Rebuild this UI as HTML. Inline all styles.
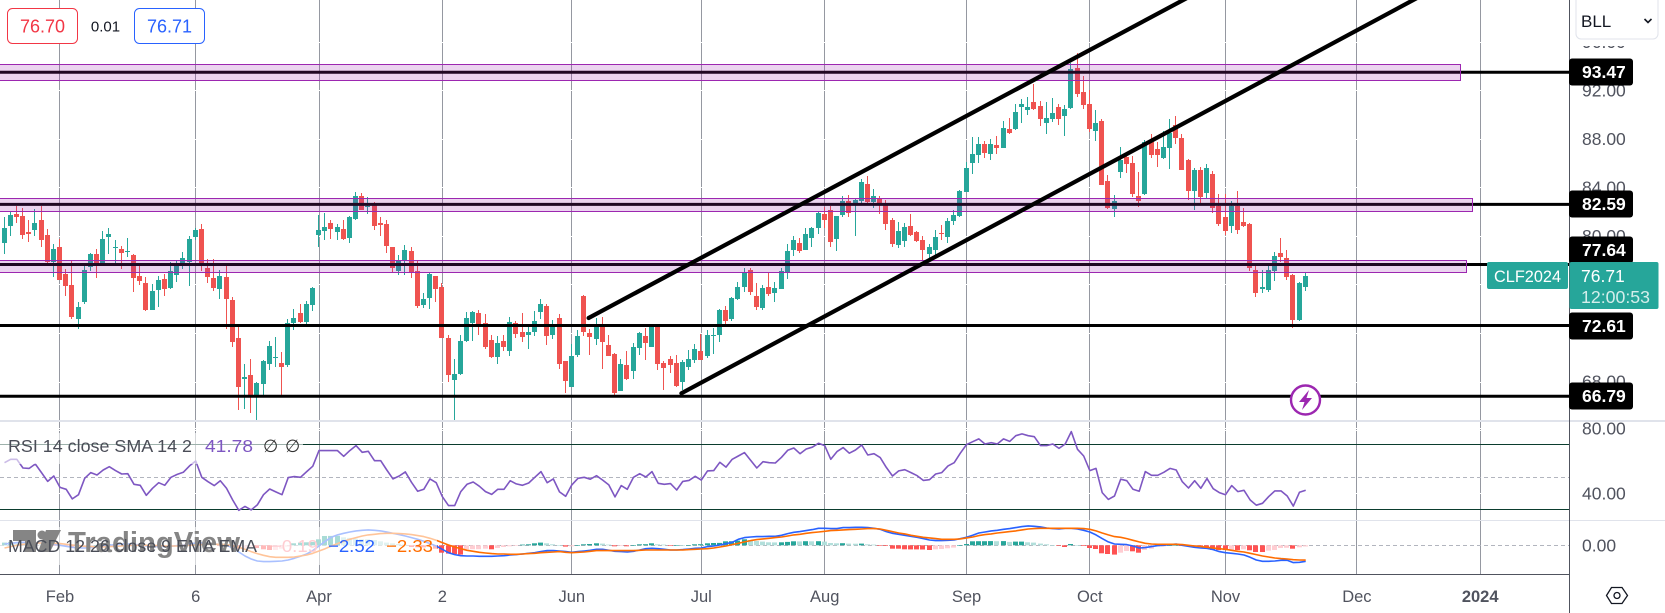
<!DOCTYPE html>
<html lang="en">
<head>
<meta charset="utf-8">
<title>CLF2024 chart</title>
<style>
html,body{margin:0;padding:0;background:#fff;width:1665px;height:613px;overflow:hidden}
svg{display:block;font-family:"Liberation Sans","DejaVu Sans",sans-serif}
</style>
</head>
<body>
<svg id="chart" xmlns="http://www.w3.org/2000/svg" width="1665" height="613" viewBox="0 0 1665 613">
  <rect x="0" y="0" width="1665" height="613" fill="#ffffff"/>
  <g id="vgrid"></g>
  <g id="hgrid"></g>

  <g id="rsiPane"></g>
  <g id="macdPane"></g>

  <rect x="0" y="433" width="303" height="31" fill="#ffffff" fill-opacity="0.6"/>
  <rect x="0" y="527" width="437" height="38" fill="#ffffff" fill-opacity="0.6"/>

  <g fill="#858585">
    <path d="M13 530H36V552H25V541H13ZM46 530H61L50 552H38Z"/>
    <circle cx="42" cy="535" r="4.5"/>
    <text x="68" y="552" font-size="29" font-weight="700" textLength="172" lengthAdjust="spacingAndGlyphs">TradingView</text>
  </g>

  <g id="candles" clip-path="url(#pricePaneClip)"></g>
  <defs><clipPath id="pricePaneClip"><rect x="0" y="0" width="1569" height="420"/></clipPath></defs>

  <g id="levels"></g>

  <g fill="#9c27b0" fill-opacity="0.2" stroke="#9c27b0" stroke-width="1">
    <rect x="-2" y="64.5" width="1462.5" height="16"/>
    <rect x="-2" y="198.5" width="1474.5" height="13"/>
    <rect x="-2" y="260.5" width="1468.5" height="12"/>
  </g>

  <line x1="588.6" y1="318" x2="1187" y2="-2" stroke="#000" stroke-width="4.2" stroke-linecap="round"/>
  <line x1="681.4" y1="393.3" x2="1417" y2="-2" stroke="#000" stroke-width="4.2" stroke-linecap="round"/>

  <g>
    <circle cx="1305.5" cy="400" r="14.5" fill="#fff" stroke="#9c27b0" stroke-width="2.4"/>
    <path d="M1309 390L1299 402H1304.5L1302 410L1312 398H1306.5Z" fill="#9c27b0"/>
  </g>

  <g font-size="17.5">
    <text x="8" y="452" fill="#4a4d57" textLength="184" lengthAdjust="spacingAndGlyphs">RSI 14 close SMA 14 2</text>
    <text x="205" y="452" fill="#7e57c2" textLength="48" lengthAdjust="spacingAndGlyphs">41.78</text>
    <text x="263" y="452" fill="#333">∅</text>
    <text x="285" y="452" fill="#333">∅</text>
  </g>
  <g font-size="17.5">
    <text x="8" y="552" fill="#4a4d57" textLength="249" lengthAdjust="spacingAndGlyphs">MACD 12 26 close 9 EMA EMA</text>
    <text x="271" y="552" fill="#ffcdd2" textLength="47" lengthAdjust="spacingAndGlyphs">−0.19</text>
    <text x="328" y="552" fill="#2962ff" textLength="47" lengthAdjust="spacingAndGlyphs">−2.52</text>
    <text x="386" y="552" fill="#ff6d00" textLength="47" lengthAdjust="spacingAndGlyphs">−2.33</text>
  </g>

  <rect x="1570" y="0" width="95" height="613" fill="#ffffff"/>
  <line x1="0" y1="574.5" x2="1569" y2="574.5" stroke="#50535e" stroke-width="1"/>
  <rect x="0" y="420" width="1665" height="2" fill="#e0e3eb"/>
  <rect x="0" y="520" width="1665" height="1" fill="#e0e3eb"/>
  <line x1="1569.5" y1="0" x2="1569.5" y2="613" stroke="#50535e" stroke-width="1"/>

  <g id="priceTicks"></g>
  <g id="timeTicks"></g>

  <rect x="1570" y="0" width="95" height="46" fill="#ffffff"/>
  <g>
    <rect x="1576" y="-6" width="82" height="45" rx="5" fill="#fff" stroke="#e0e3eb"/>
    <text x="1581" y="27" font-size="17" fill="#131722">BLL</text>
    <path d="M1644.5 19L1648 22.5L1651.5 19" fill="none" stroke="#131722" stroke-width="1.6"/>
  </g>

  <g id="levelLabels"></g>

  <g>
    <rect x="1487" y="262" width="81" height="27" rx="2" fill="#26a69a"/>
    <text x="1494" y="282" font-size="17" fill="#fff" textLength="67" lengthAdjust="spacingAndGlyphs">CLF2024</text>
    <rect x="1569.5" y="262" width="89" height="47" rx="2" fill="#26a69a"/>
    <text x="1581" y="282" font-size="17.5" fill="#fff">76.71</text>
    <text x="1581" y="303" font-size="17.5" fill="#d4eeeb" textLength="69" lengthAdjust="spacingAndGlyphs">12:00:53</text>
  </g>

  <g>
    <rect x="7.5" y="8.5" width="70" height="35" rx="5" fill="#fff" stroke="#f23645"/>
    <text x="42.5" y="32.5" font-size="18" fill="#f23645" text-anchor="middle">76.70</text>
  </g>
  <text x="105.5" y="31.5" font-size="15" fill="#131722" text-anchor="middle">0.01</text>
  <g>
    <rect x="134.5" y="8.5" width="70" height="35" rx="5" fill="#fff" stroke="#2962ff"/>
    <text x="169.5" y="32.5" font-size="18" fill="#2962ff" text-anchor="middle">76.71</text>
  </g>

  <g fill="none" stroke="#131722" stroke-width="1.3">
    <path d="M1606.5 595.5L1611.5 587.5H1622L1627.5 595.5L1622 603.5H1611.5Z"/>
    <circle cx="1617" cy="595.5" r="3"/>
  </g>
</svg>

<script>
var opens = [
79.41,80.81,81.80,81.63,80.32,80.48,81.30,80.07,77.84,79.08,
76.86,75.95,73.15,74.55,77.43,78.50,77.76,79.90,79.00,78.92,
78.67,78.42,76.69,76.11,73.89,75.54,76.44,75.70,76.77,77.68,
77.84,79.90,80.56,77.35,76.53,75.62,76.61,74.71,71.58,68.21,
68.54,66.75,67.79,69.44,69.94,69.52,69.36,72.82,73.64,72.90,
74.30,80.07,80.40,81.06,80.32,80.56,79.82,81.39,83.28,82.37,
82.62,81.06,80.97,79.08,77.10,78.01,78.75,77.10,74.30,74.88,
76.69,75.78,71.58,68.13,68.62,71.34,72.82,73.64,72.82,71.42,
70.02,71.34,70.51,72.82,72.08,71.83,72.08,73.72,74.22,71.83,
73.23,69.69,67.55,70.18,75.04,71.99,71.50,72.57,71.01,70.27,
67.22,69.36,68.87,70.76,71.75,70.84,72.57,69.53,69.85,69.53,
67.96,69.19,69.77,70.51,70.10,71.75,71.83,73.89,73.15,74.80,
75.78,77.19,75.04,74.05,75.78,75.29,75.62,77.02,78.83,79.41,
78.83,79.82,80.64,81.80,82.13,79.74,81.72,82.87,82.70,82.87,
84.27,82.79,83.03,82.62,81.30,79.24,79.58,80.81,80.31,79.66,
78.50,78.83,80.23,79.90,81.22,81.63,83.61,85.99,86.66,87.56,
86.74,87.48,87.23,88.80,88.80,90.61,90.36,91.02,90.69,89.29,
89.62,90.61,89.87,90.53,93.82,91.85,90.86,88.63,89.46,84.52,
82.21,85.26,86.49,85.99,83.28,83.44,87.73,87.15,86.41,87.23,
89.13,88.06,86.25,83.69,85.42,83.52,85.09,82.46,81.55,80.81,
82.46,81.14,80.97,77.18,75.62,75.54,77.10,78.58,78.17,76.77,
73.06,75.78];
var highs = [
81.55,81.96,82.46,82.29,81.30,82.21,82.46,80.56,79.33,79.74,
77.27,77.95,74.55,77.51,78.59,78.92,80.40,80.65,79.66,79.16,
79.82,78.50,77.51,76.61,76.03,76.69,76.86,77.84,77.93,78.67,
79.99,80.65,80.97,78.06,78.09,77.19,77.51,74.96,72.49,69.44,
69.85,67.96,69.77,71.34,71.67,70.43,73.15,73.97,74.38,74.63,
75.78,81.72,81.88,81.30,80.97,81.30,81.63,83.61,83.53,83.20,
82.79,81.55,81.30,79.08,78.42,79.24,79.08,77.93,75.29,76.94,
76.69,76.11,71.83,69.85,71.83,73.72,73.81,73.89,73.56,71.83,
71.75,71.83,73.31,72.98,73.64,72.49,73.81,74.80,74.38,73.07,
73.56,69.69,71.09,72.24,75.13,72.33,73.23,73.31,71.83,70.35,
69.85,70.51,71.17,72.08,72.41,72.66,72.66,69.69,70.10,70.18,
69.77,70.59,71.09,71.91,72.24,72.41,73.97,74.22,74.96,76.20,
77.35,77.35,76.11,75.95,76.94,76.20,77.35,79.33,79.99,79.82,
80.64,80.73,81.96,82.37,82.46,81.63,83.28,83.36,83.03,84.68,
84.93,83.86,83.28,82.95,81.47,81.14,81.06,81.80,80.40,79.99,
79.33,80.48,80.89,81.47,82.13,83.78,86.08,88.14,88.14,87.81,
87.97,88.22,89.46,89.70,90.86,91.27,91.43,92.50,91.10,91.02,
91.35,90.86,90.78,94.24,95.06,93.16,92.01,90.36,89.62,85.01,
83.36,87.31,86.66,86.57,85.26,87.89,88.39,87.73,88.63,89.62,
89.87,88.39,86.33,85.58,85.67,85.91,85.34,83.44,83.44,82.87,
83.69,82.29,81.06,77.51,77.18,77.51,78.67,79.82,78.83,76.83,
76.20,76.94];
var lows = [
78.50,79.99,81.06,79.74,79.49,79.99,79.08,77.76,76.61,76.36,
75.04,73.15,72.33,74.38,77.10,76.53,77.68,78.50,77.76,77.27,
78.26,75.37,75.95,73.81,73.89,74.14,75.04,75.62,76.20,77.27,
75.87,79.66,77.10,76.11,75.46,74.80,72.33,70.84,65.65,65.73,
65.41,64.83,66.89,68.95,69.19,66.89,69.19,72.24,72.82,72.74,
73.81,79.08,79.66,79.74,79.66,79.66,79.41,81.30,82.13,81.80,
80.48,79.99,78.59,77.02,76.77,76.77,76.53,74.06,74.06,73.97,
74.55,71.58,67.96,64.83,68.54,71.25,71.34,71.83,70.68,69.94,
69.44,70.51,70.10,71.58,71.25,70.68,71.75,73.15,71.01,71.50,
69.03,67.05,67.55,70.02,71.75,70.18,71.01,69.03,70.10,66.89,
67.22,68.13,68.21,70.18,69.77,70.84,68.95,67.30,68.70,67.55,
67.30,68.95,69.53,69.77,69.94,70.27,71.25,72.74,72.98,74.71,
75.37,75.13,73.89,73.89,75.04,74.55,75.62,76.44,78.34,78.58,
78.83,79.08,80.15,80.64,79.08,78.75,81.55,81.55,79.99,82.70,
82.70,82.29,81.80,80.48,79.08,78.99,79.08,79.99,79.49,77.93,
77.93,78.42,79.66,79.41,80.89,81.55,83.61,85.09,85.99,86.41,
86.25,86.74,87.23,88.39,88.72,89.29,89.95,90.36,89.05,88.39,
89.37,89.13,88.22,90.45,91.43,90.45,88.55,87.81,84.19,82.21,
81.55,84.76,85.17,83.19,82.37,83.36,86.41,85.67,86.33,85.50,
87.56,85.42,82.95,82.13,82.70,83.11,81.88,80.81,80.07,80.23,
80.15,80.73,77.10,74.96,75.29,75.37,76.28,77.84,76.36,72.41,
72.98,75.45];
var closes = [
80.65,81.72,81.55,80.07,80.15,81.06,79.66,77.84,78.92,76.36,
75.87,73.31,74.14,77.19,78.50,77.62,79.74,80.15,79.08,78.59,
78.75,76.53,76.28,73.89,75.46,76.36,75.62,77.10,77.60,78.17,
79.74,80.48,77.76,76.61,75.70,76.69,74.80,71.25,67.55,68.37,
66.89,67.88,69.69,70.92,70.02,69.19,72.82,73.23,72.90,74.38,
75.70,80.48,80.73,80.56,80.73,79.74,81.55,83.28,82.13,82.46,
80.81,80.89,79.16,77.35,77.93,78.83,77.02,74.22,74.80,76.86,
75.62,71.58,68.54,68.62,71.34,73.23,73.72,72.66,70.84,70.02,
71.17,70.84,72.90,71.91,71.67,72.08,72.98,74.38,71.75,72.57,
69.44,68.04,70.10,71.75,72.08,71.67,72.49,71.25,70.10,67.05,
69.44,68.21,70.84,71.99,71.17,72.57,69.44,69.11,69.36,67.63,
69.61,69.85,70.68,69.77,71.83,71.83,73.89,72.98,74.88,75.78,
76.94,75.37,74.14,75.70,75.21,75.70,77.10,78.75,79.66,78.75,
80.15,80.64,81.88,81.30,79.49,81.63,82.87,81.88,82.95,84.43,
82.79,83.28,82.70,80.97,79.33,80.40,80.73,80.07,79.58,78.83,
79.08,79.90,80.15,81.22,81.72,83.69,85.59,86.74,87.56,86.82,
87.56,87.23,88.88,88.47,90.20,90.86,90.61,90.45,89.62,89.70,
90.12,89.62,90.45,93.74,91.68,90.78,88.80,89.29,84.19,82.29,
82.87,86.25,85.91,83.44,82.87,87.73,86.66,86.66,87.31,88.47,
88.06,85.42,83.69,85.42,83.19,85.58,82.29,80.97,80.40,82.46,
80.48,80.81,77.35,75.29,75.78,77.18,78.34,78.25,76.61,73.06,
76.12,76.71];
var rsiValues = [
58.7,60.8,60.8,55.4,55.2,57.9,52.6,47.2,50.5,43.5,
42.3,36.4,39.0,49.1,52.6,51.1,54.2,56.2,53.8,51.7,
51.9,45.4,44.8,38.6,42.9,46.4,44.8,49.7,51.5,52.8,
56.7,59.7,49.7,47.0,44.6,47.6,42.9,35.7,29.4,31.8,
29.6,32.7,39.0,42.5,40.7,39.0,49.5,50.1,49.7,53.2,
56.5,66.1,66.1,66.1,66.1,62.6,66.1,69.2,65.1,65.7,
59.9,59.9,54.2,48.7,50.5,53.0,46.6,41.1,42.3,48.7,
46.4,37.8,32.3,32.3,40.9,45.4,46.8,44.2,40.9,39.2,
42.3,42.3,47.6,45.6,44.8,46.2,49.7,53.2,46.4,48.7,
40.7,38.0,45.0,49.1,49.7,48.5,50.7,48.0,45.0,37.6,
44.6,42.3,49.7,51.9,49.9,53.2,46.0,45.4,45.8,41.9,
47.2,47.8,50.3,48.0,53.6,53.8,58.9,56.0,60.8,62.8,
64.9,60.1,55.4,59.3,58.7,58.5,62.0,66.3,67.7,64.2,
67.1,68.2,70.6,69.2,60.8,65.5,68.0,64.5,66.5,69.6,
63.4,64.2,61.8,55.8,50.5,53.6,54.4,52.6,50.7,47.8,
48.2,51.7,52.6,56.7,58.7,64.5,69.8,71.6,73.3,70.2,
71.0,70.2,73.3,71.8,75.3,76.4,75.3,74.7,69.2,69.2,
70.2,67.5,70.2,77.8,66.9,62.8,53.8,55.2,40.3,36.1,
38.2,48.5,47.6,42.3,41.1,53.2,50.9,50.9,52.8,55.2,
54.2,47.0,43.1,47.6,42.9,48.9,42.7,40.3,39.0,44.6,
40.9,41.7,35.7,32.5,33.7,37.8,41.3,41.3,38.2,32.0,
40.5,41.78];
var macdValues = [
.21,.32,.42,.47,.47,.42,.37,.26,.16,0,
-.16,-.32,-.42,-.42,-.37,-.26,-.16,0,.11,.21,
.21,.16,.05,-.11,-.21,-.21,-.21,-.16,-.05,.05,
.21,.37,.37,.32,.21,.16,0,-.42,-1.05,-1.68,
-2.15,-2.47,-2.57,-2.57,-2.52,-2.47,-2.31,-2.05,-1.73,-1.37,
-.84,-.11,.63,1.26,1.63,1.89,2.10,2.26,2.36,2.42,
2.36,2.26,2.10,1.89,1.68,1.47,1.21,.95,.63,.26,
-.11,-.63,-1.16,-1.47,-1.63,-1.68,-1.68,-1.73,-1.73,-1.73,
-1.68,-1.63,-1.52,-1.47,-1.37,-1.26,-1.16,-1.00,-.84,-.84,
-.89,-1.00,-1.10,-1.00,-.89,-.79,-.63,-.63,-.79,-.95,
-1.00,-1.05,-.95,-.74,-.53,-.47,-.53,-.63,-.74,-.74,
-.68,-.58,-.47,-.42,-.21,-.11,.05,.26,.47,.95,
1.21,1.31,1.37,1.37,1.42,1.42,1.58,1.84,2.05,2.15,
2.31,2.47,2.68,2.68,2.63,2.63,2.78,2.78,2.84,2.84,
2.78,2.68,2.52,2.15,1.89,1.73,1.58,1.42,1.26,1.05,
.84,.74,.74,.79,.84,1.05,1.26,1.58,1.94,2.10,
2.26,2.36,2.52,2.63,2.78,2.94,3.05,2.99,2.89,2.73,
2.63,2.57,2.68,2.68,2.57,2.36,2.10,1.63,1.05,.53,
.21,.16,.11,-.11,-.42,-.37,-.21,-.05,0,.11,
.21,0,-.16,-.32,-.42,-.47,-.68,-1.00,-1.16,-1.26,
-1.37,-1.52,-1.89,-2.31,-2.52,-2.52,-2.47,-2.36,-2.36,-2.73,
-2.68,-2.52];
var signalValues = [
-.42,-.21,0,.16,.26,.37,.37,.37,.32,.26,
.16,.05,-.05,-.16,-.21,-.26,-.26,-.21,-.16,-.11,
-.05,0,0,0,-.05,-.05,-.11,-.11,-.11,-.05,
0,.05,.11,.16,.16,.16,.11,-.05,-.32,-.63,
-1.00,-1.31,-1.58,-1.79,-1.89,-1.89,-1.89,-1.84,-1.68,-1.52,
-1.26,-.89,-.53,-.11,.26,.63,.95,1.21,1.47,1.63,
1.73,1.84,1.89,1.89,1.84,1.79,1.68,1.52,1.37,1.10,
.79,.42,.05,-.26,-.53,-.79,-.95,-1.10,-1.21,-1.31,
-1.37,-1.37,-1.42,-1.42,-1.37,-1.31,-1.26,-1.16,-1.10,-1.05,
-1.00,-1.10,-1.16,-1.10,-1.05,-.95,-.84,-.84,-.84,-.84,
-.84,-.84,-.84,-.79,-.74,-.74,-.74,-.74,-.74,-.74,
-.74,-.68,-.63,-.58,-.53,-.42,-.26,-.11,.11,.32,
.53,.74,.89,1.00,1.10,1.21,1.31,1.47,1.63,1.73,
1.89,2.00,2.10,2.21,2.31,2.36,2.42,2.47,2.52,2.57,
2.63,2.63,2.57,2.36,2.15,1.94,1.79,1.58,1.42,1.26,
1.16,1.05,.95,.95,.95,1.00,1.16,1.31,1.52,1.68,
1.79,1.94,2.05,2.15,2.26,2.42,2.57,2.63,2.68,2.68,
2.68,2.68,2.68,2.68,2.68,2.63,2.52,2.26,1.94,1.63,
1.37,1.26,1.05,.79,.53,.32,.21,.16,.16,.16,
.16,.11,0,-.11,-.21,-.32,-.42,-.53,-.63,-.79,
-.95,-1.05,-1.26,-1.47,-1.68,-1.84,-2.00,-2.10,-2.15,-2.26,
-2.31,-2.33];
var histValues = [
.42,.53,.47,.42,.37,.26,.16,.05,-.05,-.11,
-.16,-.21,-.21,-.16,-.05,.05,.16,.21,.16,.11,
.05,0,-.05,-.11,-.16,-.11,-.11,-.05,.05,.11,
.16,.26,.21,.11,0,-.05,-.11,-.32,-.53,-.42,
-.21,-.42,-.63,-.74,-.74,-.53,-.21,.32,.42,.47,
.53,.95,1.47,1.48,1.49,1.26,1.16,1.05,.95,.94,
.84,.63,.42,.32,.21,.11,-.26,-.32,-.33,-.21,
-.53,-1.16,-1.31,-1.37,-1.47,-.63,-.62,-.61,-.53,-.63,
-.42,-.26,-.16,-.05,.11,.16,.32,.42,.32,.16,
.05,-.2,-.16,.05,.16,.21,.32,.26,.11,-.16,
-.11,-.16,.05,.16,.17,.32,.16,.11,-.05,.05,
0,.05,.16,.17,.32,.37,.38,.63,.64,.74,
.95,.84,.68,.58,.47,.46,.48,.53,.63,.62,
.64,.63,.65,.58,.37,.32,.33,.26,.25,.27,
.16,.11,-.05,-.11,-.53,-.54,-.63,-.64,-.65,-.66,
-.74,-.63,-.58,-.47,-.37,0,.21,.63,.64,.65,
.66,.65,.66,.53,.58,.59,.47,.42,.26,.16,
.05,-.05,-.26,.21,.05,-.11,-.42,-.58,-1.26,-1.37,
-1.47,-1.16,-.9,-.95,-1.16,-.74,-.53,-.21,-.16,0,
.05,-.05,-.11,-.16,-.26,-.32,-.74,-.75,-.76,-.74,
-.75,-.63,-.79,-1.05,-1.06,-.84,-.74,-.42,-.40,-.53,
-.32,-.19];

var priceTickLabels = ["96.00","92.00","88.00","84.00","80.00","76.00","72.00","68.00"];
var rsiTickLabels = ["80.00","40.00"];
var macdTickLabels = ["0.00"];
var timeLabels = ["Feb","6","Apr","2","Jun","Jul","Aug","Sep","Oct","Nov","Dec","2024"];
var timeLabelBars = [9,31,51,71,92,113,133,156,176,198,219.3,239.3];
var levelValues = [93.47,82.59,77.64,72.61,66.79];

var NS = "http://www.w3.org/2000/svg";
function yPrice(p){ return 72.3 + (93.47 - p) * 12.14; }
function yRsi(v){ return 476.8 - (v - 50) * 1.625; }
function yMacd(v){ return 545.3 - v * 6.35; }
function xBarLeft(i){ return Math.floor(2 + 6.1667 * i); }
function xBarCenter(i){ return 4.5 + 6.1667 * i; }
function make(tag, parent, attrs){
  var el = document.createElementNS(NS, tag);
  for (var k in attrs) { el.setAttribute(k, attrs[k]); }
  parent.appendChild(el);
  return el;
}

var vgrid = document.getElementById("vgrid");
timeLabelBars.forEach(function(b, i){
  var gx = Math.round(xBarCenter(b) - 0.5) + 0.5;
  if (i === 0) { gx = 59.5; } 
  var vl = make("line", vgrid, {x1:gx, x2:gx, y1:0, y2:574, stroke:"#9598a1", "stroke-width":1});
  
  
});

var hgrid = document.getElementById("hgrid");
priceTickLabels.concat(["64.00"]).forEach(function(t){
  var gy = Math.round(yPrice(parseFloat(t))) + 0.5;
  var hl = make("line", hgrid, {x1:0, x2:1569, y1:gy, y2:gy, stroke:"#ffffff", "stroke-width":1});
  
  
});
rsiTickLabels.forEach(function(t){
  var gy = Math.round(yRsi(parseFloat(t))) + 0.5;
  var hl = make("line", hgrid, {x1:0, x2:1569, y1:gy, y2:gy, stroke:"#ffffff", "stroke-width":1});
  
  
});

var rsiPane = document.getElementById("rsiPane");
[70, 30].forEach(function(v){
  var gy = Math.round(yRsi(v)) + 0.5;
  var band = make("line", rsiPane, {x1:0, x2:1569, y1:gy, y2:gy, stroke:"#0b3d2e", "stroke-width":1});
  
  
});
var midY = Math.round(yRsi(50)) + 0.5;
var rsiMid = make("line", rsiPane, {x1:0, x2:1569, y1:midY, y2:midY, stroke:"#b2b5be", "stroke-width":1, "stroke-dasharray":"4 3"});


var rsiLine = make("polyline", rsiPane, {
  points: rsiValues.map(function(v, i){ return xBarCenter(i).toFixed(1) + "," + yRsi(v).toFixed(1); }).join(" "),
  fill:"none", stroke:"#7e57c2", "stroke-width":1.6, "stroke-linejoin":"round"
});



var macdPane = document.getElementById("macdPane");
var zeroY = Math.round(yMacd(0)) + 0.5;
var macdZero = make("line", macdPane, {x1:0, x2:1569, y1:zeroY, y2:zeroY, stroke:"#b2b5be", "stroke-width":1, "stroke-dasharray":"4 3"});


histValues.forEach(function(v, i){
  var prev = i > 0 ? histValues[i - 1] : v;
  var color = v >= 0 ? (v >= prev ? "#26a69a" : "#b2dfdb") : (v < prev ? "#ff5252" : "#ffcdd2");
  var y0 = yMacd(0), y1 = yMacd(v);
  var bar = make("rect", macdPane, {x:xBarLeft(i), width:5, y:Math.min(y0, y1).toFixed(1), height:Math.max(Math.abs(y1 - y0), 0.6).toFixed(1), fill:color});
  
  
});
var macdLine = make("polyline", macdPane, {
  points: macdValues.map(function(v, i){ return xBarCenter(i).toFixed(1) + "," + yMacd(v).toFixed(1); }).join(" "),
  fill:"none", stroke:"#2962ff", "stroke-width":1.6, "stroke-linejoin":"round"
});


var signalLine = make("polyline", macdPane, {
  points: signalValues.map(function(v, i){ return xBarCenter(i).toFixed(1) + "," + yMacd(v).toFixed(1); }).join(" "),
  fill:"none", stroke:"#ff6d00", "stroke-width":1.6, "stroke-linejoin":"round"
});



var candles = document.getElementById("candles");
opens.forEach(function(o, i){
  var c = closes[i];
  var color = c >= o ? "#26a69a" : "#ef5350";
  var left = xBarLeft(i);
  var top = Math.round(yPrice(Math.max(o, c)));
  var bottom = Math.round(yPrice(Math.min(o, c)));
  var wt = Math.round(yPrice(highs[i]));
  var wb = Math.round(yPrice(lows[i]));
  var wick = make("rect", candles, {x:left + 2, width:1, y:wt, height:Math.max(wb - wt, 1), fill:color});
  
  
  var body = make("rect", candles, {x:left, width:5, y:top, height:Math.max(bottom - top, 1), fill:color});
  
  
});

var levels = document.getElementById("levels");
levelValues.forEach(function(v){
  var ly = yPrice(v);
  var ln = make("line", levels, {x1:0, x2:1569, y1:ly.toFixed(1), y2:ly.toFixed(1), stroke:"#000", "stroke-width":3});
  
  
});

var priceTicks = document.getElementById("priceTicks");
priceTickLabels.forEach(function(t){
  var tx = make("text", priceTicks, {x:1582, y:(yPrice(parseFloat(t)) + 6.2).toFixed(1), "font-size":17.5, fill:"#50535e"});
  tx.textContent = t;
  
  
});
rsiTickLabels.forEach(function(t){
  var tx = make("text", priceTicks, {x:1582, y:(yRsi(parseFloat(t)) + 6.2).toFixed(1), "font-size":17.5, fill:"#50535e"});
  tx.textContent = t;
  
  
});
macdTickLabels.forEach(function(t){
  var tx = make("text", priceTicks, {x:1582, y:(yMacd(parseFloat(t)) + 6.2).toFixed(1), "font-size":17.5, fill:"#50535e"});
  tx.textContent = t;
  
  
});

var timeTicks = document.getElementById("timeTicks");
timeLabels.forEach(function(t, i){
  var tx = make("text", timeTicks, {x:(xBarCenter(timeLabelBars[i])).toFixed(1), y:602, "font-size":16.5, fill:"#50535e", "text-anchor":"middle"});
  tx.textContent = t;
  if (t === "2024") { tx.setAttribute("font-weight", "700"); }
  
  
});

var levelLabels = document.getElementById("levelLabels");
levelValues.forEach(function(v){
  var cy = Math.round(yPrice(v));
  if (v === 77.64) { cy = 250; }
  var box = make("rect", levelLabels, {x:1569, y:cy - 13.5, width:64, height:27, rx:3, fill:"#000"});
  
  
  var tx = make("text", levelLabels, {x:1582, y:cy + 6.2, "font-size":17.5, "font-weight":700, fill:"#fff"});
  tx.textContent = v.toFixed(2);
  
  
});
</script>
</body>
</html>
